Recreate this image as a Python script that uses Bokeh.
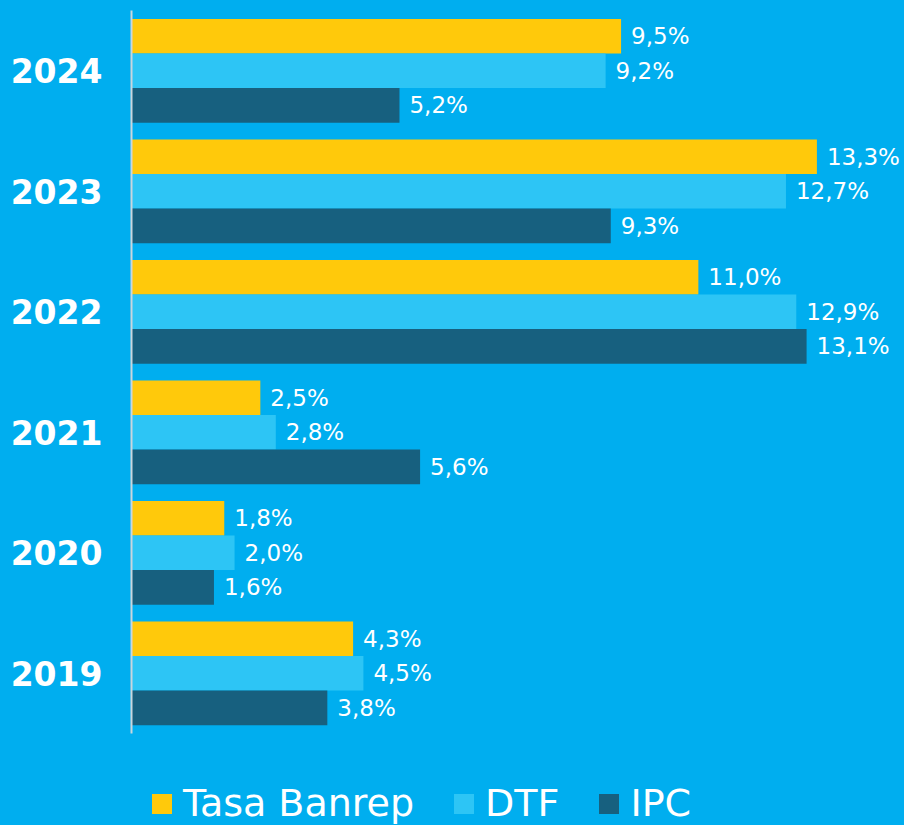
from bokeh.plotting import figure
from bokeh.models import ColumnDataSource, Range1d, Legend, LegendItem, FixedTicker
from bokeh.transform import dodge
from bokeh.core.properties import value
from bokeh.embed import file_html
from bokeh.resources import INLINE

years = ["2019", "2020", "2021", "2022", "2023", "2024"]
banrep = [4.3, 1.8, 2.5, 11.0, 13.3, 9.5]
dtf = [4.5, 2.0, 2.8, 12.9, 12.7, 9.2]
ipc = [3.8, 1.6, 5.6, 13.1, 9.3, 5.2]
series_names = ["Tasa Banrep", "DTF", "IPC"]

BG = "#00AEEF"
COLORS = ["#FFC90B", "#2DC5F5", "#17607F"]
FONT = "DejaVu Sans"

def fmt(v):
    return f"{v:.1f}%".replace(".", ",")

pos = list(range(len(years)))
src = ColumnDataSource(data=dict(
    pos=pos,
    banrep=banrep, dtf=dtf, ipc=ipc,
    banrep_l=[fmt(v) for v in banrep],
    dtf_l=[fmt(v) for v in dtf],
    ipc_l=[fmt(v) for v in ipc],
))

p = figure(
    y_range=Range1d(-1.263, 5.5),
    x_range=Range1d(0, 15),
    width=904, height=825,
    output_backend="svg", toolbar_location=None,
    x_axis_location=None,
    min_border_left=131, min_border_right=0, min_border_top=10, min_border_bottom=0,
)
p.background_fill_color = BG
p.border_fill_color = BG
p.outline_line_color = None
p.xgrid.grid_line_color = None
p.ygrid.grid_line_color = None

H = 0.287
offsets = [H, 0.0, -H]
keys = ["banrep", "dtf", "ipc"]
renderers = []
for k, off, col in zip(keys, offsets, COLORS):
    r = p.hbar(y=dodge("pos", off), right=k, left=0, height=H,
               source=src, fill_color=col, line_color=None)
    renderers.append(r)
    p.text(x=k, y=dodge("pos", off), text=k + "_l", source=src,
           x_offset=10, text_baseline="middle", text_align="left",
           text_color="white", text_font=value(FONT), text_font_size="23px")

ax = p.yaxis[0]
ax.ticker = FixedTicker(ticks=pos)
ax.major_label_overrides = {i: y for i, y in zip(pos, years)}
ax.bounds = (-0.5, 5.5)
ax.major_label_text_font = FONT
ax.major_label_text_font_size = "33px"
ax.major_label_text_font_style = "bold"
ax.major_label_text_color = "white"
ax.major_tick_line_color = None
ax.major_tick_in = 0
ax.major_tick_out = 0
ax.minor_tick_line_color = None
ax.axis_line_color = "#C9D6DE"
ax.axis_line_width = 2
ax.major_label_standoff = 29

legend = Legend(
    items=[LegendItem(label=n, renderers=[r]) for n, r in zip(series_names, renderers)],
    orientation="horizontal",
    location=(18, 0),
    label_text_font=FONT, label_text_font_size="38px", label_text_color="white",
    glyph_width=25, glyph_height=25, label_standoff=9, spacing=37,
    background_fill_alpha=0, border_line_color=None, padding=0, margin=0,
    label_height=20,
)
p.add_layout(legend, "center")

html = file_html(p, INLINE)
html = html.replace("<body>", '<body style="background-color:#00AEEF;">')
open("out.html", "w").write(html)
